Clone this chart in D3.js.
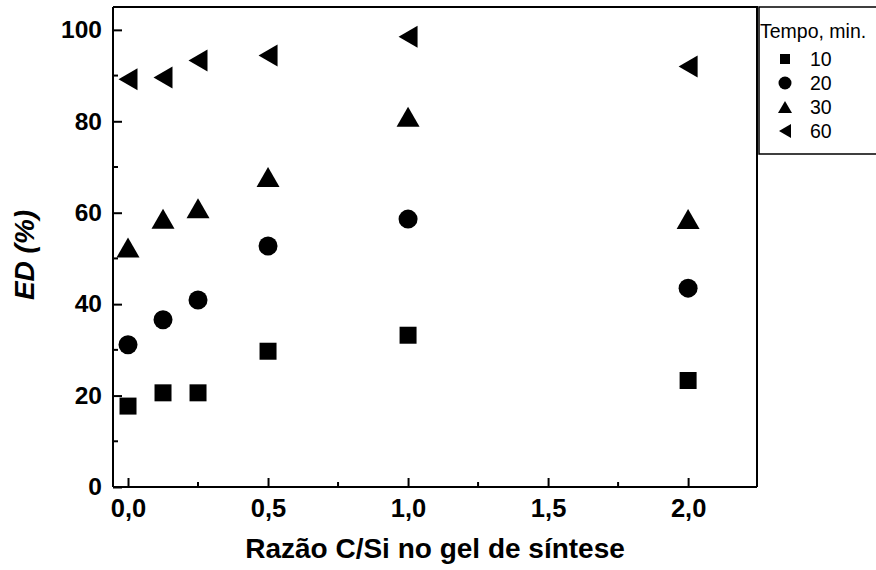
<!DOCTYPE html>
<html>
<head>
<meta charset="utf-8">
<script src="https://cdn.jsdelivr.net/npm/d3@7"></script>
<style>
  html, body { margin: 0; padding: 0; background: #fff; }
  svg { display: block; font-family: "Liberation Sans", Arial, sans-serif; }
</style>
</head>
<body>
<svg id="chart" width="876" height="570"></svg>
<script>
// C/Si ratio in the synthesis gel
const ratios = [0, 0.125, 0.25, 0.5, 1.0, 2.0];
// ED (%) for each reaction time
const ed10 = [17.7, 20.6, 20.6, 29.7, 33.2, 23.3];
const ed20 = [31.1, 36.6, 40.9, 52.7, 58.6, 43.5];
const ed30 = [52.4, 58.7, 61.0, 67.8, 81.0, 58.6];
const ed60 = [89.2, 89.6, 93.3, 94.4, 98.5, 92.0];
const seriesNames = ["10", "20", "30", "60"];
const xTicks = [0, 0.5, 1.0, 1.5, 2.0];
const yTicks = [0, 20, 40, 60, 80, 100];

const svg = d3.select("#chart");
const plotL = 113, plotR = 757, plotT = 7, plotB = 487;

const x = d3.scaleLinear().domain([-0.0536, 2.246]).range([plotL, plotR]);
const y = d3.scaleLinear().domain([0, 105]).range([plotB, plotT]);

// marker shapes (w,h in px), drawn centred on the point
const shapes = {
  square: (w) => `M${-w/2},${-w/2}h${w}v${w}h${-w}Z`,
  circle: (d) => { const r = d/2; return `M${r},0A${r},${r} 0 1,1 ${-r},0A${r},${r} 0 1,1 ${r},0Z`; },
  up: (w, h) => `M0,${-h/2}L${w/2},${h/2}L${-w/2},${h/2}Z`,
  leftTri: (w, h) => `M${-w/2},0L${w/2},${-h/2}L${w/2},${h/2}Z`
};

const series = [
  { name: seriesNames[0], values: ed10, path: shapes.square(17), legend: shapes.square(10) },
  { name: seriesNames[1], values: ed20, path: shapes.circle(19), legend: shapes.circle(13) },
  { name: seriesNames[2], values: ed30, path: shapes.up(23, 20), legend: shapes.up(14, 12) },
  { name: seriesNames[3], values: ed60, path: shapes.leftTri(19, 22), legend: shapes.leftTri(12, 14) }
];

const fontFam = "'Liberation Sans', Arial, sans-serif";

// frame (top and right edges)
svg.append("path")
  .attr("d", `M${plotL},${plotT}H${plotR}V${plotB}`)
  .attr("fill", "none").attr("stroke", "#000").attr("stroke-width", 2);

// x axis: majors inward, minors between
const xMinor = d3.range(0.25, 2.25, 0.5);
const xAxisG = svg.append("g").attr("transform", `translate(0,${plotB})`);
xAxisG.selectAll("line.minor").data(xMinor).join("line")
  .attr("x1", d => x(d)).attr("x2", d => x(d)).attr("y1", 0).attr("y2", -5)
  .attr("stroke", "#000").attr("stroke-width", 2);
xAxisG.call(d3.axisBottom(x).tickValues(xTicks).tickSize(-9).tickPadding(12)
    .tickFormat(d => d3.format(".1f")(d).replace(".", ",")))
  .call(g => g.select(".domain").attr("d", `M${plotL},0H${plotR}`).attr("stroke-width", 2))
  .call(g => g.selectAll(".tick line").attr("stroke-width", 2))
  .call(g => g.selectAll("text").attr("font-size", 25.5).attr("font-weight", "bold")
    .attr("font-family", fontFam).attr("fill", "#000"));

// y axis
const yMinor = d3.range(10, 101, 20);
const yAxisG = svg.append("g").attr("transform", `translate(${plotL},0)`);
yAxisG.selectAll("line.minor").data(yMinor).join("line")
  .attr("y1", d => y(d)).attr("y2", d => y(d)).attr("x1", 0).attr("x2", 5)
  .attr("stroke", "#000").attr("stroke-width", 2);
yAxisG.call(d3.axisLeft(y).tickValues(yTicks).tickSize(-9).tickPadding(11))
  .call(g => g.select(".domain").attr("d", `M0,${plotT}V${plotB}`).attr("stroke-width", 2))
  .call(g => g.selectAll(".tick line").attr("stroke-width", 2))
  .call(g => g.selectAll("text").attr("font-size", 24.5).attr("font-weight", "bold")
    .attr("font-family", fontFam).attr("fill", "#000"));

// data markers
series.forEach(s => {
  svg.append("g").selectAll("path").data(s.values).join("path")
    .attr("d", s.path)
    .attr("transform", (v, i) => `translate(${x(ratios[i])},${y(v)})`)
    .attr("fill", "#000");
});

// axis titles
svg.append("text")
  .attr("x", (plotL + plotR) / 2).attr("y", 558).attr("text-anchor", "middle")
  .attr("font-size", 28).attr("font-weight", "bold")
  .text("Razão C/Si no gel de síntese");

svg.append("text")
  .attr("transform", "translate(34,255) rotate(-90)")
  .attr("text-anchor", "middle")
  .attr("font-size", 28).attr("font-weight", "bold").attr("font-style", "italic")
  .text("ED (%)");

// legend
const lg = svg.append("g");
lg.append("path")
  .attr("d", `M880,${plotT}H759V154H880`)
  .attr("fill", "#fff").attr("stroke", "#000").attr("stroke-width", 1.5);
lg.append("text").attr("x", 760).attr("y", 38).attr("font-size", 19.5).text("Tempo, min.");
series.forEach((s, i) => {
  const cy = 59 + i * 24;
  lg.append("path").attr("d", s.legend).attr("transform", `translate(785,${cy})`).attr("fill", "#000");
  lg.append("text").attr("x", 810).attr("y", cy + 7).attr("font-size", 19.5).text(s.name);
});
</script>
</body>
</html>
